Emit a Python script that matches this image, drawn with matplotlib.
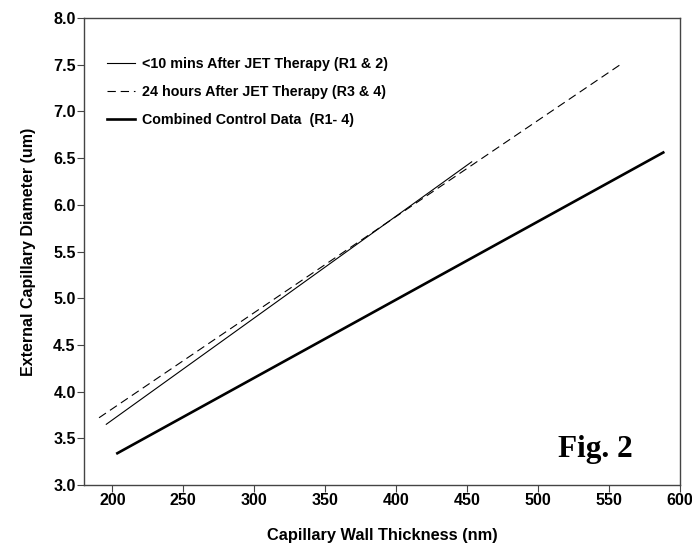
import numpy as np
import matplotlib
matplotlib.use('Agg')
import matplotlib.pyplot as plt

plt.rcParams['font.family'] = ['Liberation Sans', 'DejaVu Sans']
plt.rcParams['font.weight'] = 'bold'
plt.rcParams['lines.scale_dashes'] = False

# End points of the three regression lines (thickness nm, diameter um)
x_10min = [195.7, 453.2]
y_10min = [3.65, 6.46]
x_24h = [190.6, 559.8]
y_24h = [3.72, 7.52]
x_ctrl = [203.5, 588.2]
y_ctrl = [3.34, 6.56]

labels = ['<10 mins After JET Therapy (R1 & 2)',
          '24 hours After JET Therapy (R3 & 4)',
          'Combined Control Data  (R1- 4)']

x_ticks = [200, 250, 300, 350, 400, 450, 500, 550, 600]
y_ticks = [3.0, 3.5, 4.0, 4.5, 5.0, 5.5, 6.0, 6.5, 7.0, 7.5, 8.0]

narrow = ['Liberation Sans Narrow', 'Liberation Sans', 'DejaVu Sans']

fig = plt.figure(figsize=(6.92, 5.44), dpi=100)
ax = fig.add_axes([84/692, 1-485/544, 596/692, 467/544])

ax.plot(x_10min, y_10min, color='k', linewidth=0.8, label=labels[0])
ax.plot(x_24h, y_24h, color='k', linewidth=0.8, dashes=(6, 3.5), label=labels[1])
ax.plot(x_ctrl, y_ctrl, color='k', linewidth=1.9, label=labels[2])

ax.set_xlim(180, 600)
ax.set_ylim(3.0, 8.0)
ax.set_xticks(x_ticks)
ax.set_yticks(y_ticks)
ax.set_xticklabels([str(v) for v in x_ticks])
ax.set_yticklabels(['%.1f' % v for v in y_ticks])
for lab in ax.get_xticklabels() + ax.get_yticklabels():
    lab.set_family(narrow)
    lab.set_fontsize(11.6)
    lab.set_fontweight('bold')
ax.tick_params(direction='out', length=5, width=0.8, color='#444444', pad=1)
for s in ax.spines.values():
    s.set_color('#444444')
    s.set_linewidth(1.0)

ax.set_xlabel('Capillary Wall Thickness (nm)', fontsize=11.8, fontweight='bold', labelpad=14)
ax.set_ylabel('External Capillary Diameter (um)', fontsize=11.5, fontweight='bold', labelpad=12)

leg = ax.legend(loc='upper left', bbox_to_anchor=(0.038, 0.917), frameon=False,
                fontsize=10.3, handlelength=2.0, handletextpad=0.5,
                labelspacing=0.97, borderpad=0, borderaxespad=0)

ax.text(0.795, 0.06, 'Fig. 2', transform=ax.transAxes, ha='left', va='baseline',
        fontsize=22.5, fontweight='bold', family=['Liberation Serif', 'DejaVu Serif'])

fig.savefig('out.png', dpi=100)
